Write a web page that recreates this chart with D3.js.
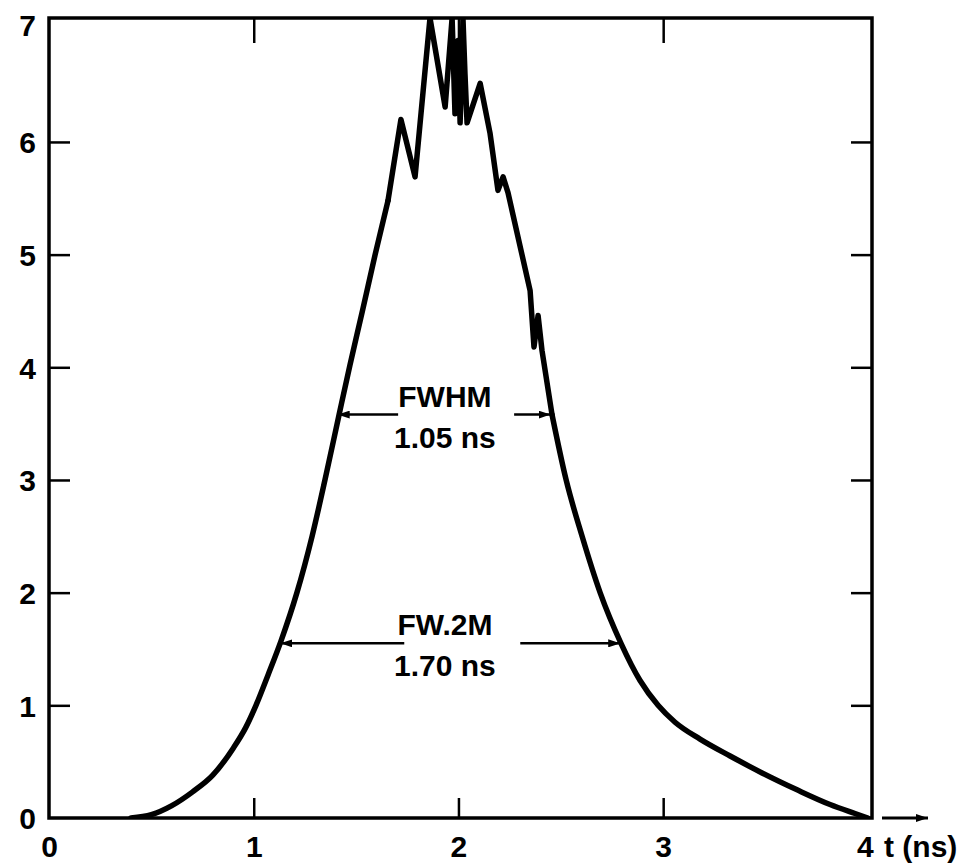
<!DOCTYPE html>
<html>
<head>
<meta charset="utf-8">
<script src="https://cdn.jsdelivr.net/npm/d3@7"></script>
<style>
  body { margin: 0; background: #fff; }
  text { font-family: "Liberation Sans", Arial, sans-serif; font-weight: bold; fill: #000; }
</style>
</head>
<body>
<svg id="chart" width="969" height="865"></svg>
<script>
// pulse shape, t in ns
var times = [0.40, 0.50, 0.60, 0.70, 0.80, 0.90, 0.96, 1.011, 1.07, 1.133, 1.211, 1.285, 1.348, 1.417, 1.47, 1.531, 1.593, 1.656,
             1.719, 1.788, 1.861, 1.935, 1.969, 1.983, 1.998, 2.008, 2.018, 2.022, 2.032, 2.042, 2.106, 2.154, 2.193, 2.218, 2.242,
             2.35, 2.369, 2.389, 2.408, 2.457,
             2.526, 2.604, 2.692, 2.794, 2.887, 2.975, 3.058, 3.18, 3.327, 3.483, 3.654, 3.815, 3.937, 4.0];
var values = [0.0, 0.03, 0.11, 0.23, 0.38, 0.62, 0.80, 1.0, 1.27, 1.57, 2.0, 2.5, 3.0, 3.58, 4.02, 4.5, 5.0, 5.48,
              6.2, 5.69, 7.1, 6.31, 7.1, 6.25, 6.9, 6.17, 6.7, 7.1, 6.6, 6.17, 6.52, 6.08, 5.57, 5.69, 5.55,
              4.68, 4.18, 4.46, 4.15, 3.58,
              3.0, 2.5, 2.0, 1.55, 1.22, 1.0, 0.85, 0.7, 0.55, 0.4, 0.25, 0.12, 0.04, 0.0];

var xTicks = [0, 1, 2, 3, 4];
var yTicks = [0, 1, 2, 3, 4, 5, 6, 7];

// width markers: level, left edge, right edge, two text lines
var widthNames = ["FWHM", "FW.2M"];
var widthLabels = ["1.05 ns", "1.70 ns"];
var widthLevels = [3.58, 1.55];
var widthLeft = [1.41, 1.13];
var widthRight = [2.45, 2.79];

var svg = d3.select("#chart"),
    margin = {top: 18, right: 97, bottom: 47, left: 49},
    width = +svg.attr("width") - margin.left - margin.right,
    height = +svg.attr("height") - margin.top - margin.bottom,
    g = svg.append("g").attr("transform", "translate(" + margin.left + "," + margin.top + ")");

var x = d3.scaleLinear().domain([0, 4.02]).range([0, width]),
    y = d3.scaleLinear().domain([0, 7.1]).range([height, 0]);

var defs = svg.append("defs");
defs.append("clipPath").attr("id", "plot")
  .append("rect").attr("width", width).attr("height", height);
defs.append("marker")
    .attr("id", "head")
    .attr("viewBox", "0 0 12 8")
    .attr("refX", 12).attr("refY", 4)
    .attr("markerWidth", 12).attr("markerHeight", 8)
    .attr("markerUnits", "userSpaceOnUse")
    .attr("orient", "auto")
  .append("path").attr("d", "M0,0L12,4L0,8Z").attr("fill", "#000");

// ticks on all four sides, pointing inward
var inner = [1, 2, 3];
g.append("g")
    .attr("transform", "translate(0," + height + ")")
    .call(d3.axisBottom(x).tickValues(xTicks).tickSizeInner(-20).tickSizeOuter(0).tickPadding(10).tickFormat(d3.format("d")))
    .call(function(a) {
      a.select(".domain").remove();
      a.selectAll(".tick line").attr("stroke-width", 2.5).filter(function(d) { return d === 0 || d === 4; }).remove();
      a.selectAll(".tick text").attr("font-size", 30).attr("dy", "0.95em")
        .filter(function(d) { return d === 4; }).attr("dx", -3);
    });

g.append("g")
    .call(d3.axisTop(x).tickValues(inner).tickSizeInner(-25).tickSizeOuter(0).tickFormat(""))
    .call(function(a) { a.select(".domain").remove(); a.selectAll(".tick line").attr("stroke-width", 2.5); });

g.append("g")
    .call(d3.axisLeft(y).tickValues(yTicks).tickSizeInner(-21).tickSizeOuter(0).tickPadding(13).tickFormat(d3.format("d")))
    .call(function(a) {
      a.select(".domain").remove();
      a.selectAll(".tick line").attr("stroke-width", 2.5).filter(function(d) { return d === 0 || d === 7; }).remove();
      a.selectAll(".tick text").attr("font-size", 30).attr("dy", "0.36em");
      a.selectAll(".tick").filter(function(d) { return d === 7; }).select("text").attr("dy", "0.2em");
    });

g.append("g")
    .attr("transform", "translate(" + width + ",0)")
    .call(d3.axisRight(y).tickValues(yTicks.slice(1, 7)).tickSizeInner(-21).tickSizeOuter(0).tickFormat(""))
    .call(function(a) { a.select(".domain").remove(); a.selectAll(".tick line").attr("stroke-width", 2.5); });

// frame
g.append("rect")
    .attr("width", width)
    .attr("height", height)
    .attr("fill", "none")
    .attr("stroke", "#000")
    .attr("stroke-width", 3.5);

// axis arrow and unit
g.append("line")
    .attr("x1", width + 10).attr("x2", width + 56)
    .attr("y1", height).attr("y2", height)
    .attr("stroke", "#000").attr("stroke-width", 3)
    .attr("marker-end", "url(#head)");

g.append("text")
    .attr("x", width + 12)
    .attr("y", height + 28)
    .attr("dy", "0.35em")
    .attr("font-size", 30)
    .text("t (ns)");

// pulse: smooth flanks, jagged top drawn straight
var pulse = times.map(function(t, i) { return {t: t, v: values[i]}; });
var topStart = 1.656, topEnd = 2.457;
var parts = [
  {pts: pulse.filter(function(d) { return d.t <= topStart; }), curve: d3.curveMonotoneX},
  {pts: pulse.filter(function(d) { return d.t >= topStart && d.t <= topEnd; }), curve: d3.curveLinear},
  {pts: pulse.filter(function(d) { return d.t >= topEnd; }), curve: d3.curveMonotoneX}
];

parts.forEach(function(p) {
  var line = d3.line()
      .curve(p.curve)
      .x(function(d) { return x(d.t); })
      .y(function(d) { return y(d.v); });

  g.append("path")
      .datum(p.pts)
      .attr("clip-path", "url(#plot)")
      .attr("fill", "none")
      .attr("stroke", "#000")
      .attr("stroke-width", 5.5)
      .attr("stroke-linejoin", "round")
      .attr("stroke-linecap", "round")
      .attr("d", line);
});

// width annotations
widthNames.forEach(function(name, i) {
  var mid = (x(widthLeft[i]) + x(widthRight[i])) / 2 + 12,
      yy = y(widthLevels[i]),
      gap = 58;

  g.append("line")
      .attr("x1", mid - gap).attr("x2", x(widthLeft[i]))
      .attr("y1", yy).attr("y2", yy)
      .attr("stroke", "#000").attr("stroke-width", 2.5)
      .attr("marker-end", "url(#head)");

  g.append("line")
      .attr("x1", mid + gap).attr("x2", x(widthRight[i]))
      .attr("y1", yy).attr("y2", yy)
      .attr("stroke", "#000").attr("stroke-width", 2.5)
      .attr("marker-end", "url(#head)");

  g.append("text")
      .attr("x", x(1.934))
      .attr("y", yy - 8)
      .attr("text-anchor", "middle")
      .attr("font-size", 30)
      .text(name);

  g.append("text")
      .attr("x", x(1.934))
      .attr("y", yy + 33)
      .attr("text-anchor", "middle")
      .attr("font-size", 30)
      .text(widthLabels[i]);
});
</script>
</body>
</html>
